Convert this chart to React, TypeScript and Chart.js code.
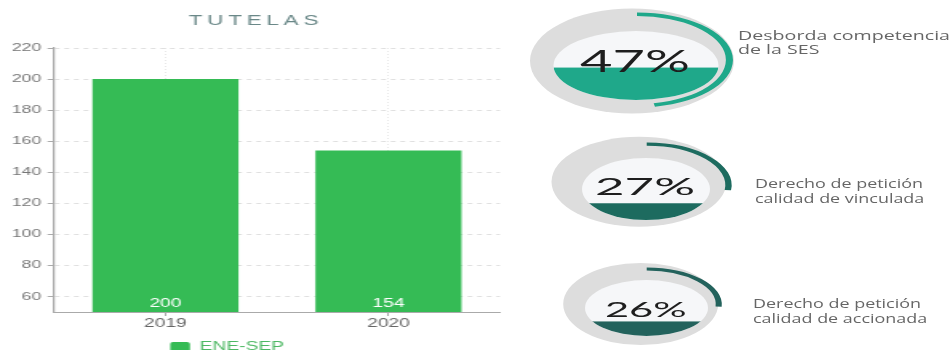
import React, { useEffect, useRef } from 'react';
import { Chart, registerables } from 'chart.js';

Chart.register(...registerables);
Chart.defaults.font.family = "'Liberation Sans', Arial, sans-serif";

// ---------- DATA ----------
const chartTitle = 'TUTELAS';
const categories = ['2019', '2020'];
const seriesLabel = 'ENE-SEP';
const values = [200, 154];
const yTicks = [60, 80, 100, 120, 140, 160, 180, 200, 220];
const yMin = 50;
const yMax = 220;

const gaugeValues = [47, 27, 26];
const gaugeLabels = [
  ['Desborda competencia', 'de la SES'],
  ['Derecho de petición', 'calidad de vinculada'],
  ['Derecho de petición', 'calidad de accionada'],
];

// ---------- STYLE / LAYOUT ----------
const BAR_COLOR = '#35bb55';
const BAR_STRETCH = 1.6;
const BAR_W = 316;
const H = 350;

const G_LEFT = 510;
const G_W = 442;
const GAUGE_LAYOUT = [
  {
    color: '#1fa88a',
    ring: { cx: 632, cy: 61, rx: 102, ry: 52.5 },
    inner: { cx: 636, cy: 65.5, rx: 82.5, ry: 34.5 },
    arc: { cx: 637, cy: 60, r: 47.5, t: 3.5, k: 2.02 },
    text: { x: 635, y: 71.7, size: 30, w: 110 },
    label: { x: 738, y: [40, 53.5], size: 13, w: 212 },
  },
  {
    color: '#1d6b5f',
    ring: { cx: 639, cy: 181.7, rx: 87.5, ry: 45 },
    inner: { cx: 646, cy: 189, rx: 64, ry: 31 },
    arc: { cx: 646.7, cy: 185, r: 42.5, t: 3.2, k: 2.0 },
    text: { x: 645, y: 195, size: 23, w: 100 },
    label: { x: 755, y: [187.5, 202.7], size: 12, w: 168 },
  },
  {
    color: '#23625c',
    ring: { cx: 640.7, cy: 304, rx: 77.5, ry: 41 },
    inner: { cx: 646.5, cy: 308, rx: 61.5, ry: 28 },
    arc: { cx: 646.7, cy: 304.4, r: 37, t: 3, k: 2.03 },
    text: { x: 645.8, y: 316.7, size: 21, w: 81.7 },
    label: { x: 753, y: [307.7, 322.7], size: 12, w: 168 },
  },
];

function BarChart() {
  const ref = useRef<HTMLCanvasElement>(null);
  useEffect(() => {
    const titlePlugin = {
      id: 'titleSpaced',
      afterDraw(chart: any) {
        const ctx = chart.ctx;
        ctx.save();
        ctx.font = "14px 'Liberation Sans', Arial, sans-serif";
        ctx.fillStyle = '#6a8888';
        ctx.textAlign = 'center';
        ctx.textBaseline = 'alphabetic';
        (ctx as any).letterSpacing = '3px';
        ctx.fillText(chartTitle, 160, 25);
        ctx.restore();
      },
    };
    const valuePlugin = {
      id: 'valueLabels',
      afterDatasetsDraw(chart: any) {
        const ctx = chart.ctx;
        const meta = chart.getDatasetMeta(0);
        const yb = chart.scales.y.bottom;
        ctx.save();
        ctx.fillStyle = '#ffffff';
        ctx.font = "12px 'Liberation Sans', Arial, sans-serif";
        ctx.textAlign = 'center';
        ctx.textBaseline = 'alphabetic';
        meta.data.forEach((el: any, i: number) => {
          ctx.fillText(String(chart.data.datasets[0].data[i]), el.x, yb - 4.7);
        });
        ctx.restore();
      },
    };
    const legendPlace = {
      id: 'legendPlace',
      afterLayout(chart: any) {
        const lg = chart.legend;
        if (!lg) return;
        const w = lg.width;
        const h = lg.height;
        lg.left = 106.25;
        lg.right = 106.25 + w;
        lg.top = 341;
        lg.bottom = 341 + h;
      },
    };
    const chart = new Chart(ref.current as HTMLCanvasElement, {
      type: 'bar',
      data: {
        labels: categories,
        datasets: [
          {
            label: seriesLabel,
            data: values,
            backgroundColor: BAR_COLOR,
            borderWidth: 0,
            barPercentage: 0.655,
            categoryPercentage: 1,
          },
        ],
      },
      options: {
        responsive: false,
        animation: false,
        events: [],
        layout: { padding: { top: 48, right: 3.5, left: 0, bottom: 0 } },
        plugins: {
          legend: {
            position: 'bottom',
            align: 'start',
            labels: {
              padding: 0,
              boxWidth: 12.5,
              boxHeight: 10,
              useBorderRadius: true,
              borderRadius: 2,
              color: '#4db863',
              font: { size: 12 },
            },
          },
          tooltip: { enabled: false },
          title: { display: false },
        },
        scales: {
          x: {
            grid: { offset: false, color: '#e8e8e8', tickColor: '#aaaaaa', tickLength: 4 },
            border: { color: '#aaaaaa', width: 1, dash: [1, 2] },
            ticks: { color: '#666666', font: { size: 12 }, padding: 0 },
            afterFit: (s: any) => {
              s.height = 16;
            },
          },
          y: {
            min: yMin,
            max: yMax,
            afterBuildTicks: (s: any) => {
              s.ticks = yTicks.map((v) => ({ value: v }));
            },
            grid: { color: '#e0e0e0', tickColor: '#aaaaaa', tickLength: 4 },
            border: { color: '#aaaaaa', width: 1.25, dash: [3, 3] },
            ticks: { color: '#777777', font: { size: 11 }, padding: 4 },
            afterFit: (s: any) => {
              s.width = 33.75;
            },
          },
        },
      } as any,
      plugins: [titlePlugin, valuePlugin, legendPlace],
    });
    return () => chart.destroy();
  }, []);
  return (
    <div
      style={{
        position: 'absolute',
        left: 0,
        top: 0,
        width: BAR_W,
        height: H,
        overflow: 'hidden',
        transform: `scaleX(${BAR_STRETCH})`,
        transformOrigin: '0 0',
      }}
    >
      <canvas ref={ref} width={BAR_W} height={H} style={{ display: 'block' }} />
    </div>
  );
}

function fitText(ctx: any, text: string, x: number, y: number, font: string, sx: number, align: string) {
  ctx.save();
  ctx.font = font;
  ctx.translate(x, y);
  ctx.scale(sx, 1);
  ctx.textAlign = align;
  ctx.textBaseline = 'alphabetic';
  ctx.fillText(text, 0, 0);
  ctx.restore();
}

function Gauge({ index }: { index: number }) {
  const ref = useRef<HTMLCanvasElement>(null);
  useEffect(() => {
    const L = GAUGE_LAYOUT[index];
    const ox = G_LEFT;
    const acx = L.arc.cx - ox;
    const acy = L.arc.cy;
    const R = L.arc.r;
    const decor = {
      id: 'gaugeDecor',
      beforeDatasetsDraw(chart: any) {
        const ctx = chart.ctx;
        const v = chart.data.datasets[0].data[0];
        ctx.save();
        ctx.fillStyle = '#dddddd';
        ctx.beginPath();
        ctx.ellipse(L.ring.cx - ox, L.ring.cy, L.ring.rx, L.ring.ry, 0, 0, Math.PI * 2);
        ctx.fill();
        ctx.fillStyle = '#f6f7f9';
        ctx.beginPath();
        ctx.ellipse(L.inner.cx - ox, L.inner.cy, L.inner.rx, L.inner.ry, 0, 0, Math.PI * 2);
        ctx.fill();
        ctx.clip();
        const bottom = L.inner.cy + L.inner.ry;
        const top = bottom - (2 * L.inner.ry * v) / 100;
        ctx.fillStyle = L.color;
        ctx.fillRect(L.inner.cx - ox - L.inner.rx, top, 2 * L.inner.rx, bottom - top + 1);
        ctx.restore();
        const a = chart.getDatasetMeta(0).data[0];
        ctx.save();
        ctx.translate(a.x, a.y);
        ctx.scale(L.arc.k, 1);
        ctx.translate(-a.x, -a.y);
      },
      afterDatasetsDraw(chart: any) {
        const ctx = chart.ctx;
        ctx.restore();
        const v = chart.data.datasets[0].data[0];
        const txt = `${v}%`;
        const pf = `400 ${L.text.size}px Lato, 'Liberation Sans', sans-serif`;
        ctx.save();
        ctx.font = pf;
        const psx = L.text.w / ctx.measureText(txt).width;
        ctx.fillStyle = '#1e1e1e';
        fitText(ctx, txt, L.text.x - ox, L.text.y, pf, psx, 'center');
        const lf = `${L.label.size}px 'Open Sans', Lato, sans-serif`;
        ctx.font = lf;
        const lines = gaugeLabels[index];
        const lsx = L.label.w / ctx.measureText(lines[0]).width;
        ctx.fillStyle = '#666666';
        lines.forEach((ln, i) => fitText(ctx, ln, L.label.x - ox, L.label.y[i], lf, lsx, 'left'));
        ctx.restore();
      },
    };
    const chart = new Chart(ref.current as HTMLCanvasElement, {
      type: 'doughnut',
      data: {
        labels: ['valor', 'resto'],
        datasets: [
          {
            data: [gaugeValues[index], 100 - gaugeValues[index]],
            backgroundColor: [L.color, 'rgba(0,0,0,0)'],
            borderWidth: 0,
            hoverBorderWidth: 0,
            offset: 0,
            hoverOffset: 0,
            spacing: 0,
            clip: false,
          },
        ],
      },
      options: {
        responsive: false,
        animation: false,
        events: [],
        cutout: R - L.arc.t,
        layout: {
          padding: {
            left: acx - R,
            right: G_W - acx - R,
            top: acy - R,
            bottom: H - acy - R,
          },
        },
        plugins: { legend: { display: false }, tooltip: { enabled: false } },
      } as any,
      plugins: [decor],
    });
    return () => chart.destroy();
  }, [index]);
  return (
    <canvas
      ref={ref}
      width={G_W}
      height={H}
      style={{ position: 'absolute', left: G_LEFT, top: 0, display: 'block' }}
    />
  );
}

export default function App() {
  return (
    <div
      style={{
        position: 'fixed',
        left: 0,
        top: 0,
        width: 952,
        height: 350,
        overflow: 'hidden',
        background: '#ffffff',
      }}
    >
      <BarChart />
      {gaugeValues.map((_, i) => (
        <Gauge key={i} index={i} />
      ))}
    </div>
  );
}
